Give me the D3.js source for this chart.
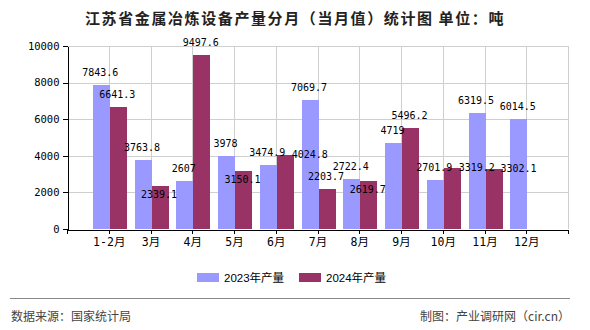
<!DOCTYPE html>
<html>
<head>
<meta charset="utf-8">
<script src="https://cdn.jsdelivr.net/npm/d3@7"></script>
<style>
  html, body { margin: 0; padding: 0; background: #fff; }
  svg { display: block; }
</style>
</head>
<body>
<div id="chart"></div>
<script>
const categories = ["1-2月", "3月", "4月", "5月", "6月", "7月", "8月", "9月", "10月", "11月", "12月"];
const values2023 = [7843.6, 3763.8, 2607, 3978, 3474.9, 7069.7, 2722.4, 4719, 2701.9, 6319.5, 6014.5];
const values2024 = [6641.3, 2339.1, 9497.6, 3150.1, 4024.8, 2203.7, 2619.7, 5496.2, 3319.2, 3302.1];
const seriesNames = ["2023年产量", "2024年产量"];
const yTicks = [0, 2000, 4000, 6000, 8000, 10000];
// where each 2024 value label sits relative to its bar
const labelPlace2024 = ["above", "inside", "above", "inside", "right", "above", "inside", "above", "right", "right"];

(function () {
const W = 590, H = 330;
const colors = ["#9999FF", "#993366"];
const pLeft = 67, pRight = 568, pTop = 46, pBottom = 229;
const barW = 17;
const monoFont = "'DejaVu Sans Mono', 'Liberation Mono', monospace";
const cjkFont = "'Noto Sans CJK SC', sans-serif";

const svg = d3.select("#chart").append("svg")
  .attr("width", W).attr("height", H)
  .style("font-family", cjkFont);

const x = d3.scalePoint().domain(categories).range([pLeft, pRight]).padding(1);
const y = d3.scaleLinear().domain([0, 10000]).range([pBottom, pTop]);

// grid
const grid = svg.append("g").attr("shape-rendering", "crispEdges");
grid.selectAll("line.h").data(yTicks.filter(d => d > 0)).join("line")
  .attr("x1", pLeft).attr("x2", pRight)
  .attr("y1", d => Math.round(y(d)) + 0.5).attr("y2", d => Math.round(y(d)) + 0.5)
  .attr("stroke", "#cfcfcf");
grid.selectAll("line.v").data(categories).join("line")
  .attr("x1", d => Math.round(x(d)) + 0.5).attr("x2", d => Math.round(x(d)) + 0.5)
  .attr("y1", pTop).attr("y2", pBottom)
  .attr("stroke", "#cfcfcf");
grid.append("line")
  .attr("x1", pRight + 0.5).attr("x2", pRight + 0.5)
  .attr("y1", pTop).attr("y2", pBottom)
  .attr("stroke", "#cfcfcf");

// bars
const bars = svg.append("g").attr("shape-rendering", "crispEdges");
bars.selectAll("rect.a").data(values2023).join("rect")
  .attr("x", (d, i) => Math.round(x(categories[i])) - barW + 1)
  .attr("width", barW)
  .attr("y", d => y(d))
  .attr("height", d => pBottom - y(d))
  .attr("fill", colors[0]);
bars.selectAll("rect.b").data(values2024).join("rect")
  .attr("x", (d, i) => Math.round(x(categories[i])) + 1)
  .attr("width", barW)
  .attr("y", d => y(d))
  .attr("height", d => pBottom - y(d))
  .attr("fill", colors[1]);

// axes
const yAxis = svg.append("g")
  .attr("transform", `translate(${pLeft + 0.5},0)`)
  .call(d3.axisLeft(y).tickValues(yTicks).tickSize(5).tickSizeOuter(0).tickFormat(d3.format("d")));
yAxis.selectAll("text").style("font-family", monoFont).style("font-size", "10.5px").attr("fill", "#000");
yAxis.selectAll("line,path").attr("stroke", "#000");

const xAxis = svg.append("g")
  .attr("transform", `translate(0,${pBottom + 0.5})`)
  .call(d3.axisBottom(x).tickSize(4).tickSizeOuter(4).tickPadding(4));
xAxis.selectAll("text").style("font-family", monoFont + ", 'Noto Sans CJK SC'").style("font-size", "11.5px").attr("fill", "#000");
xAxis.selectAll("line,path").attr("stroke", "#000");
svg.selectAll(".domain").attr("shape-rendering", "crispEdges");
svg.selectAll(".tick line").attr("shape-rendering", "crispEdges");

// value labels
const labels = svg.append("g")
  .style("font-family", monoFont).style("font-size", "10px").attr("fill", "#000")
  .attr("text-anchor", "middle");
labels.selectAll("text.a").data(values2023).join("text")
  .attr("x", (d, i) => x(categories[i]) - barW / 2)
  .attr("y", d => y(d) - 12.5)
  .attr("dy", "0.35em")
  .text(d => d);
labels.selectAll("text.b").data(values2024).join("text")
  .attr("x", (d, i) => x(categories[i]) + barW / 2 + (labelPlace2024[i] === "right" ? 25.5 : 0))
  .attr("y", (d, i) => {
    const p = labelPlace2024[i];
    if (p === "inside") return y(d) + 8.5;
    if (p === "right") return y(d) - 0.5;
    return y(d) - 12.5;
  })
  .attr("dy", "0.35em")
  .text(d => d);

// title
svg.append("text")
  .attr("x", 295).attr("y", 24)
  .attr("text-anchor", "middle")
  .style("font-size", "15px").style("font-weight", "bold")
  .style("letter-spacing", "1.6px")
  .attr("fill", "#222")
  .text("江苏省金属冶炼设备产量分月（当月值）统计图 单位：吨");

// legend
const legend = svg.append("g");
const legendX = [197, 299];
seriesNames.forEach((name, i) => {
  legend.append("rect")
    .attr("x", legendX[i]).attr("y", 273).attr("width", 22).attr("height", 9)
    .attr("fill", colors[i]);
  legend.append("text")
    .attr("x", legendX[i] + 27).attr("y", 278)
    .attr("dy", "0.35em")
    .style("font-family", "'Liberation Sans', 'Noto Sans CJK SC', sans-serif")
    .style("font-size", "11.5px")
    .attr("fill", "#000")
    .text(name);
});

// footer
svg.append("line")
  .attr("x1", 10).attr("x2", 570).attr("y1", 298.5).attr("y2", 298.5)
  .attr("stroke", "#888").attr("stroke-width", 1);
svg.append("text")
  .attr("x", 11).attr("y", 317).attr("dy", "0.35em")
  .style("font-size", "12px").attr("fill", "#444")
  .text("数据来源：国家统计局");
svg.append("text")
  .attr("x", 570).attr("y", 317).attr("dy", "0.35em")
  .attr("text-anchor", "end")
  .style("font-size", "12px").attr("fill", "#444")
  .text("制图：产业调研网（cir.cn）");
})();
</script>
</body>
</html>
